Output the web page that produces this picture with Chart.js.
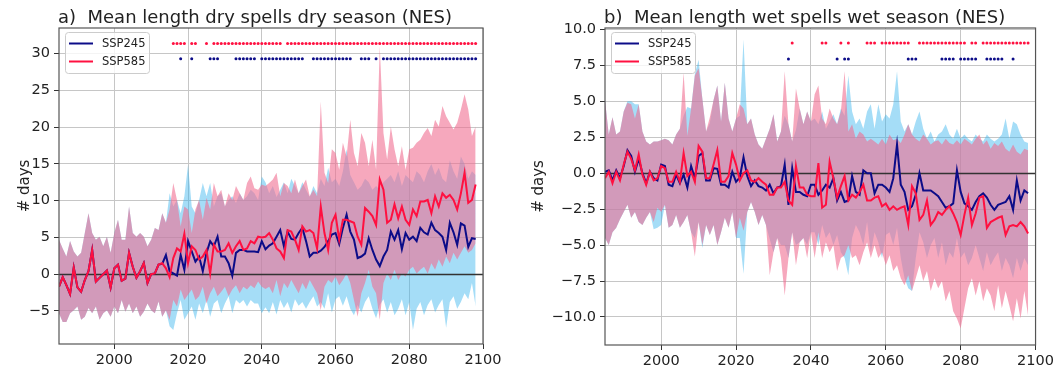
<!DOCTYPE html>
<html><head><meta charset="utf-8">
<script src="https://cdn.jsdelivr.net/npm/chart.js@4.4.1/dist/chart.umd.min.js"></script>
<style>
html,body{margin:0;padding:0;background:#fff;width:1057px;height:369px;overflow:hidden;}
.wrap{position:absolute;top:0;height:369px;}
#wa{left:0;width:530px;} #wb{left:530px;width:527px;}
canvas{display:block;}
</style></head><body>
<div class="wrap" id="wa"><canvas id="ca" width="530" height="369"></canvas></div>
<div class="wrap" id="wb"><canvas id="cb" width="527" height="369"></canvas></div>
<script>
// ---------- data ----------
const START_YEAR = 1985;           // first year of every series (one value per year)
const SERIES_NAMES = ['SSP245', 'SSP585'];
const TITLE_A = 'a)  Mean length dry spells dry season (NES)';
const TITLE_B = 'b)  Mean length wet spells wet season (NES)';

// Panel a: dry spells, dry season
const dryMean245 = [-1.7,-0.4,-1.5,-2.7,0.9,-1.8,-2.4,-0.8,0.4,3.3,
 -1.0,-0.5,0.0,0.5,-1.8,0.8,1.3,-0.9,-0.6,2.9,
 1.0,-0.5,0.4,1.5,-1.2,0.0,0.1,1.3,1.4,2.6,
 0.4,0.1,-0.2,2.6,0.6,4.5,3.1,1.7,2.4,0.4,
 2.9,4.5,3.8,5.1,2.4,2.4,1.5,-0.2,2.9,3.3,
 3.3,3.1,3.1,3.1,3.0,4.5,3.4,
 3.9,4.2,5.1,6.0,3.8,5.8,4.8,4.7,5.6,6.3,
 4.5,2.4,2.9,2.9,3.2,3.7,4.5,5.4,5.6,4.1,
 6.3,8.1,5.8,4.7,2.2,2.4,2.8,4.9,3.3,2.0,
 1.1,2.4,3.3,5.8,4.7,6.0,3.4,5.6,4.7,5.1,
 4.5,6.3,5.7,5.4,7.0,6.0,5.6,5.1,3.3,7.0,
 5.7,4.0,6.9,6.6,3.7,4.9,4.8];
const dryMean585 = [-1.7,-0.4,-1.5,-2.7,0.9,-1.8,-2.4,-0.8,0.4,3.3,
 -1.0,-0.5,0.0,0.5,-1.8,0.8,1.3,-0.9,-0.6,2.9,
 1.0,-0.5,0.4,1.5,-1.2,0.0,0.1,1.3,1.5,0.8,
 -0.4,2.2,3.5,3.1,5.5,1.5,3.8,3.3,2.0,2.4,
 3.3,0.1,4.0,3.1,3.1,3.3,4.2,2.9,3.8,4.5,
 3.3,3.5,4.5,4.2,5.1,5.0,5.1,
 5.6,4.7,3.5,3.1,2.2,6.0,5.8,4.7,3.3,6.5,
 5.8,6.0,5.6,3.5,9.2,5.6,3.3,7.0,8.1,4.7,
 7.4,7.4,7.2,7.0,5.1,4.0,9.0,8.5,7.9,6.7,
 12.9,11.5,7.0,7.4,9.5,7.6,9.2,7.4,6.7,8.8,
 7.9,9.9,9.9,10.1,8.3,10.6,9.2,11.0,10.4,10.8,
 10.1,8.8,11.0,13.8,9.7,10.1,12.2];
const dryHigh245 = [4.7,3.5,2.4,4.5,3.1,2.4,2.9,5.6,8.3,5.6,
 4.7,5.1,3.8,5.1,2.9,5.6,7.4,4.7,4.7,9.2,
 5.6,5.1,5.6,5.1,3.8,4.7,6.3,6.0,8.3,7.0,
 11.0,9.2,10.1,8.3,10.6,14.9,9.2,8.3,10.1,12.4,
 10.6,12.4,9.2,10.6,11.0,9.2,10.1,10.6,9.7,11.0,
 10.1,10.6,11.5,11.0,10.1,13.3,12.5,11.0,12.0,10.5,
 11.5,12.5,11.0,13.0,12.0,11.0,12.5,11.5,10.5,12.0,
 11.0,13.0,12.0,14.5,12.5,13.0,12.0,14.0,17.0,13.5,
 12.5,11.5,12.0,13.0,12.5,11.5,12.0,11.5,12.5,13.0,
 13.5,12.5,14.0,12.0,13.5,13.0,12.5,14.0,13.5,12.5,
 14.0,15.0,13.5,14.5,13.0,12.5,15.5,14.0,13.0,16.0,
 15.0,13.0,14.0,13.5];
const dryLow245 = [-5.3,-6.5,-6.5,-5.3,-4.9,-4.4,-6.2,-5.8,-4.6,-5.3,
 -4.4,-6.2,-5.3,-4.9,-5.8,-4.4,-5.3,-3.5,-5.1,-4.0,
 -5.3,-4.4,-5.8,-5.1,-4.0,-4.9,-5.3,-3.7,-5.8,-4.9,
 -7.1,-7.6,-5.3,-3.5,-6.2,-5.3,-4.4,-6.2,-4.0,-5.3,
 -3.5,-5.8,-4.0,-3.5,-5.3,-4.0,-3.0,-5.3,-3.5,-4.0,
 -3.5,-4.4,-3.5,-4.0,-4.0,-5.3,-4.5,-5.3,-3.8,-5.5,
 -3.5,-4.6,-3.8,-5.2,-3.4,-4.3,-3.8,-4.7,-3.8,-3.0,
 -4.4,-3.8,-4.7,-2.6,-5.2,-3.4,-3.0,-4.3,-3.0,-4.7,
 -5.6,-4.2,-5.2,-3.8,-3.0,-4.7,-6.0,-4.2,-3.4,-5.2,
 -3.8,-5.6,-4.7,-3.4,-5.6,-3.8,-7.6,-4.7,-3.8,-5.6,
 -4.2,-3.4,-5.2,-4.2,-3.4,-7.3,-3.8,-3.0,-4.7,-3.8,
 -2.6,-3.4,-1.2,-4.4];
const dryHigh585 = [4.7,3.5,2.4,4.5,3.1,2.4,2.9,5.6,8.3,5.6,
 4.7,5.1,3.8,5.1,2.9,5.6,7.4,4.7,4.7,9.2,
 5.6,5.1,5.6,5.1,3.8,4.7,6.3,6.0,8.3,7.0,
 8.8,12.4,10.1,6.5,9.2,8.8,5.6,8.8,10.1,7.4,
 10.4,8.8,12.4,10.6,11.5,9.2,11.0,10.1,12.0,11.0,
 10.1,12.4,13.3,11.7,11.5,12.2,12.0,12.4,12.9,13.8,
 10.6,12.4,12.0,11.0,12.9,11.0,12.0,12.9,10.6,11.5,
 10.6,23.5,13.8,12.4,17.0,16.5,14.2,17.9,16.0,21.0,
 16.5,14.7,19.2,17.9,14.7,18.3,14.2,31.0,19.2,15.6,
 20.1,17.0,14.7,17.4,14.2,17.0,17.2,17.9,18.3,19.2,
 19.9,18.8,21.0,20.1,22.9,21.5,20.6,19.7,20.6,22.4,
 24.5,22.4,18.8,20.1];
const dryLow585 = [-5.3,-6.5,-6.5,-5.3,-4.9,-4.4,-6.2,-5.8,-4.6,-5.3,
 -4.4,-6.2,-5.3,-4.9,-5.8,-4.4,-5.3,-3.5,-5.1,-4.0,
 -5.3,-4.4,-5.8,-5.1,-4.0,-4.9,-5.3,-3.7,-5.8,-4.9,
 -6.2,-3.5,-4.4,-2.1,-3.5,-2.8,-2.1,-3.5,-3.0,-1.7,
 -4.0,-2.6,-1.7,-3.0,-2.4,-1.7,-3.0,-2.1,-1.5,-2.6,
 -1.7,-2.1,-1.5,-1.9,-1.0,-1.7,-2.0,-1.7,-2.6,-0.8,
 -3.0,-1.2,-1.9,-0.8,-1.7,-2.6,-1.2,-2.1,-0.8,-1.7,
 -2.6,-4.9,-1.7,-0.8,-1.2,-0.3,-1.5,-0.8,0.1,-1.2,
 -3.5,-5.8,-2.6,-1.2,0.6,-1.7,-2.6,-6.2,-1.2,0.1,
 -0.8,0.6,-0.8,0.1,-0.3,0.6,1.0,0.1,0.6,1.0,
 0.1,1.5,0.6,2.0,1.0,2.4,1.5,2.9,2.0,2.9,
 3.8,2.9,3.3,4.2];
// years with a significant change (marker rows at the top of panel a)
const drySig245 = [2018,2021,2026,2027,2028,2033,2034,2035,2036,2037,2038,
 2040,2041,2042,2043,2044,2045,2046,2047,2048,2049,2050,2051,
 2054,2055,2056,2057,2058,2059,2060,2061,2062,2063,2064,
 2067,2068,2069,2071,
 2073,2074,2075,2076,2077,2078,2079,2080,2081,2082,2083,2084,2085,2086,
 2087,2088,2089,2090,2091,2092,2093,2094,2095,2096,2097,2098];
const drySig585 = [2016,2017,2018,2019,2021,2022,2025,
 2027,2028,2029,2030,2031,2032,2033,2034,2035,2036,2037,2038,2039,2040,
 2041,2042,2043,2044,2045,
 2047,2048,2049,2050,2051,2052,2053,2054,2055,2056,2057,2058,2059,2060,
 2061,2062,2063,2064,2065,2066,2067,2068,2069,2070,2071,2072,2073,2074,
 2075,2076,2077,2078,2079,2080,2081,2082,2083,2084,2085,2086,2087,2088,
 2089,2090,2091,2092,2093,2094,2095,2096,2097,2098];
const drySigLevel245 = 29.3, drySigLevel585 = 31.4;

// Panel b: wet spells, wet season
const wetMean245 = [0.1,0.2,-0.5,0.2,-0.35,0.5,1.6,1.2,0.1,1.0,
 0.0,-0.7,0.1,-0.35,-0.5,0.6,0.5,-0.8,-0.9,-0.1,
 -0.7,-0.1,-1.0,0.5,-0.35,1.2,1.4,-0.5,-0.5,0.35,
 0.3,-0.8,-0.8,-1.0,0.1,-0.6,-0.3,1.1,-0.2,-0.9,
 -0.5,-0.9,-1.0,-1.2,-0.8,-1.4,-1.0,-0.9,0.6,-2.2,
 0.35,-1.3,-1.3,-1.5,-1.6,-0.8,
 -0.8,-1.5,-1.2,-0.8,-1.0,-0.35,-1.9,-1.3,-2.0,-1.9,
 -0.2,-1.3,-1.5,0.2,0.0,0.0,-1.4,-0.8,-0.8,-1.0,
 -1.3,-0.35,2.0,-0.8,-1.3,-2.55,-2.3,-1.5,0.0,-1.2,
 -1.2,-1.2,-1.4,-1.6,-2.0,-2.4,-2.3,-2.1,0.2,-1.3,
 -2.1,-2.3,-2.55,-2.0,-1.6,-1.4,-1.7,-2.2,-2.55,-2.2,
 -2.1,-2.0,-1.6,-2.55,-0.5,-1.9,-1.2,-1.4];
const wetMean585 = [-0.35,0.1,-0.7,0.1,-0.5,0.6,1.5,1.0,0.2,1.3,
 -0.1,-0.8,0.1,-0.5,-0.35,0.5,0.35,-0.6,-0.6,0.1,
 -0.6,1.4,-0.2,0.1,-0.6,1.9,1.5,-0.35,-0.35,0.6,
 1.6,-0.6,-0.6,-0.2,1.4,0.6,-0.5,0.0,0.2,-0.5,
 -0.6,-0.35,-0.6,-0.8,-1.5,-1.5,-1.0,-1.0,-0.6,-1.9,
 -2.2,0.5,-1.0,-1.0,-1.5,-1.6,
 -1.6,0.7,-2.4,-2.2,0.8,-0.35,-1.7,-0.9,-0.2,-1.9,
 -1.5,-1.7,-1.3,-0.8,-1.9,-1.9,-1.7,-1.6,-2.3,-2.1,
 -2.55,-2.3,-2.55,-2.4,-2.3,-3.6,-0.9,-1.4,-3.25,-2.9,
 -1.9,-3.6,-3.25,-2.7,-2.9,-2.55,-2.3,-2.8,-3.4,-4.3,
 -2.9,-1.7,-3.6,-2.8,-1.7,-1.6,-3.8,-3.4,-3.25,-3.1,
 -3.0,-4.3,-3.7,-3.6,-3.7,-3.4,-3.7,-4.2];
const wetHigh245 = [5.1,2.7,3.9,2.7,2.9,4.3,5.0,5.0,4.8,4.8,
 2.9,2.2,2.0,2.2,2.2,2.3,2.4,2.3,2.0,2.7,
 3.1,4.0,4.6,4.5,6.9,7.9,5.2,2.9,3.5,5.1,
 6.1,3.6,6.3,3.8,2.9,3.8,4.0,9.3,3.4,3.8,
 2.7,2.0,1.7,2.4,3.1,4.1,2.2,2.9,4.0,3.4,
 2.2,3.0,4.5,3.4,4.3,3.6,
 3.8,3.4,4.3,3.1,3.6,4.1,3.4,4.5,4.0,6.8,
 4.3,3.4,3.8,3.1,4.3,4.8,3.1,4.8,3.6,4.1,
 3.8,4.8,7.1,3.6,2.9,3.4,2.7,3.6,4.3,3.1,
 2.4,2.9,2.2,2.7,2.9,3.4,2.7,2.4,3.1,2.4,
 2.7,2.4,2.2,2.7,2.4,2.2,2.7,2.4,2.2,2.4,
 2.7,3.8,2.4,3.6,3.4,2.7,2.2,2.1];
const wetLow245 = [-4.5,-5.0,-4.1,-3.8,-3.2,-2.7,-2.2,-3.1,-2.7,-3.4,
 -3.6,-3.1,-2.7,-3.9,-3.8,-3.6,-2.2,-3.8,-3.6,-2.9,
 -3.8,-3.4,-2.9,-4.1,-4.5,-3.4,-5.2,-3.6,-4.3,-3.6,
 -5.0,-4.1,-3.1,-3.8,-2.7,-4.5,-4.5,-7.0,-2.7,-2.0,
 -2.7,-3.6,-2.9,-3.6,-4.6,-5.5,-4.5,-5.0,-5.0,-5.9,
 -4.1,-5.0,-4.8,-4.5,-5.0,-4.1,
 -4.1,-5.0,-3.6,-4.5,-4.1,-5.0,-4.3,-5.5,-5.9,-7.1,
 -4.5,-3.6,-4.1,-5.0,-3.4,-5.5,-4.1,-4.8,-5.9,-4.3,
 -4.1,-5.0,-3.8,-5.9,-7.3,-8.0,-8.2,-5.9,-4.1,-4.8,
 -5.9,-5.0,-4.5,-5.9,-4.8,-6.4,-5.5,-5.9,-4.5,-5.9,
 -5.5,-6.4,-5.9,-5.0,-5.9,-6.8,-5.5,-6.4,-5.9,-5.5,
 -6.8,-5.9,-6.4,-7.3,-5.9,-6.8,-5.9,-6.4];
const wetHigh585 = [5.1,2.7,3.9,2.7,2.9,4.3,4.9,4.8,3.8,4.8,
 2.9,2.2,2.0,2.2,2.2,2.3,2.4,2.3,2.0,2.7,
 3.1,7.0,2.6,4.5,6.8,7.3,5.2,2.9,3.9,5.1,
 6.1,3.6,6.3,3.8,2.9,3.8,4.8,4.5,3.4,3.8,
 2.7,2.0,1.7,2.4,3.1,4.1,2.2,2.9,7.1,3.4,
 2.2,5.9,4.5,3.4,4.3,3.6,
 5.5,6.1,3.8,3.4,4.5,3.8,3.4,4.3,7.1,2.9,
 3.4,2.4,2.9,2.7,2.2,2.4,2.2,2.0,2.4,2.0,
 2.7,2.3,2.4,2.1,2.7,3.4,2.7,2.4,2.2,2.7,
 2.4,2.0,2.2,2.3,2.0,2.4,2.1,2.0,2.3,2.0,
 2.4,2.2,2.0,2.4,2.7,2.0,2.3,1.7,2.1,1.9,
 2.2,1.7,1.5,2.0,1.5,1.3,1.7,1.6];
const wetLow585 = [-4.5,-5.0,-4.1,-3.8,-3.2,-2.7,-2.2,-3.1,-2.7,-3.4,
 -3.6,-3.1,-2.7,-3.4,-2.4,-2.7,-2.2,-3.8,-3.6,-2.9,
 -3.8,-3.4,-2.9,-4.1,-5.8,-3.4,-5.0,-3.6,-4.3,-3.6,
 -5.0,-4.1,-3.1,-3.8,-2.7,-4.5,-3.1,-4.0,-2.7,-2.0,
 -2.7,-3.6,-2.9,-3.6,-7.1,-5.5,-4.5,-5.9,-8.5,-5.9,
 -4.1,-6.4,-4.8,-4.5,-5.9,-4.1,
 -5.9,-4.1,-5.9,-4.8,-5.5,-5.0,-6.8,-5.9,-5.7,-5.0,
 -5.9,-5.7,-6.4,-5.5,-4.8,-5.9,-5.0,-5.9,-5.5,-6.4,
 -5.7,-6.8,-6.4,-7.3,-7.8,-7.1,-8.2,-7.3,-6.4,-7.5,
 -6.8,-8.2,-7.3,-8.0,-7.5,-8.9,-8.2,-9.6,-10.1,-10.8,
 -9.4,-8.0,-7.3,-8.5,-7.5,-8.9,-8.0,-8.5,-9.6,-7.8,
 -9.4,-8.2,-9.2,-10.3,-8.7,-10.1,-8.2,-9.9];
const wetSig245 = [2034,2047,2049,2050,2066,2067,2068,2075,2076,2077,2078,
 2080,2081,2082,2083,2084,2087,2088,2089,2090,2091,2094];
const wetSig585 = [2035,2043,2044,2048,2050,2055,2056,2057,
 2059,2060,2061,2062,2063,2064,2065,2066,
 2069,2070,2071,2072,2073,2074,2075,2076,2077,2078,2079,2080,2081,
 2083,2084,2086,2087,2088,2089,2090,2091,2092,2093,2094,2095,2096,2097,2098];
const wetSigLevel245 = 7.95, wetSigLevel585 = 9.05;

// ---------- styling ----------
const FONT = "'DejaVu Sans', 'Liberation Sans', sans-serif";
const NAVY = '#0c0c88';
const RED = '#ff1040';
const BLUE_FILL = 'rgba(55,180,238,0.45)';
const PINK_FILL = 'rgba(240,110,145,0.6)';
const GRID = '#c6c6c6';
const TXT = '#222222';
Chart.defaults.font.family = FONT;
Chart.defaults.color = TXT;

const pts = arr => arr.map((v, i) => ({x: START_YEAR + i, y: v}));
const sigPts = (years, level) => years.map(y => ({x: y, y: level}));

const decor = {
  id: 'decor',
  afterDatasetDraw(chart, args, o) {
    if (args.index !== 3) return;            // after the last band: zero reference line
    const {ctx, chartArea: a, scales: {y}} = chart;
    const py = Math.round(y.getPixelForValue(0)) + 0.5;
    ctx.save();
    ctx.strokeStyle = '#333'; ctx.lineWidth = 1.3;
    ctx.beginPath(); ctx.moveTo(a.left, py); ctx.lineTo(a.right, py); ctx.stroke();
    ctx.restore();
  },
  afterDraw(chart, args, o) {
    const {ctx, chartArea: a} = chart;
    ctx.save();
    // frame
    ctx.strokeStyle = '#555'; ctx.lineWidth = 1.2;
    ctx.strokeRect(a.left, a.top, a.right - a.left, a.bottom - a.top);
    // title
    ctx.fillStyle = TXT; ctx.font = "18px " + FONT;
    ctx.textAlign = 'left'; ctx.textBaseline = 'alphabetic';
    ctx.fillText(o.title, a.left - 1, 23);
    // legend
    const lx = a.left + 6, ly = a.top + 4, lw = 84, lh = 41;
    ctx.fillStyle = 'rgba(255,255,255,0.8)';
    ctx.strokeStyle = '#cccccc'; ctx.lineWidth = 1;
    ctx.beginPath(); ctx.roundRect(lx + 0.5, ly + 0.5, lw, lh, 3); ctx.fill(); ctx.stroke();
    const cols = [NAVY, RED];
    ctx.font = "11.5px " + FONT; ctx.textBaseline = 'middle';
    SERIES_NAMES.forEach((name, i) => {
      const yy = ly + 11.5 + i * 18;
      ctx.strokeStyle = cols[i]; ctx.lineWidth = 2;
      ctx.beginPath(); ctx.moveTo(lx + 4, yy); ctx.lineTo(lx + 28, yy); ctx.stroke();
      ctx.fillStyle = TXT; ctx.fillText(name, lx + 37, yy + 0.5);
    });
    ctx.restore();
  }
};

function makePanel(id, p) {
  const band = (data, fillTo, color, order) => ({
    data: pts(data), fill: fillTo === null ? false : fillTo, backgroundColor: color,
    borderColor: 'rgba(0,0,0,0)', borderWidth: 0, pointRadius: 0, tension: 0, order
  });
  const line = (label, data, color, order) => ({
    label, data: pts(data), borderColor: color, backgroundColor: color, borderWidth: 2,
    pointRadius: 0, fill: false, tension: 0, order
  });
  const dots = (data, color) => ({
    data, showLine: false, pointRadius: 1.5, pointBorderWidth: 0,
    pointBackgroundColor: color, borderColor: color, order: 1
  });
  const fmt = v => (p.decimals ? v.toFixed(p.decimals) : String(v)).replace('-', '\u2212');
  return new Chart(document.getElementById(id), {
    type: 'line',
    data: { datasets: [
      band(p.hi245, 1, BLUE_FILL, 10),
      band(p.lo245, null, BLUE_FILL, 9),
      band(p.hi585, 3, PINK_FILL, 8),
      band(p.lo585, null, PINK_FILL, 7),
      line(SERIES_NAMES[0], p.mean245, NAVY, 3),
      line(SERIES_NAMES[1], p.mean585, RED, 2),
      dots(sigPts(p.sig245, p.sigLevel245), NAVY),
      dots(sigPts(p.sig585, p.sigLevel585), RED)
    ]},
    options: {
      responsive: false, animation: false, events: [],
      layout: { padding: { top: 28, right: p.padRight, left: 0, bottom: 0 } },
      plugins: { legend: { display: false }, tooltip: { enabled: false }, decor: { title: p.title } },
      scales: {
        x: {
          type: 'linear', min: 1985, max: 2100,
          ticks: { stepSize: 20, includeBounds: false, maxRotation: 0, padding: 3,
                   font: { size: 14.5 }, color: TXT, callback: v => String(v) },
          grid: { color: GRID, lineWidth: 1, drawTicks: true, tickLength: 5, tickColor: '#333', tickWidth: 1 },
          border: { display: false },
          afterFit: s => { s.height = p.xHeight; }
        },
        y: {
          min: p.ymin, max: p.ymax,
          ticks: { stepSize: p.step, includeBounds: false, padding: 4,
                   font: { size: 14.5 }, color: TXT, callback: v => fmt(v) },
          grid: { color: GRID, lineWidth: 1, drawTicks: true, tickLength: 5, tickColor: '#333', tickWidth: 1 },
          border: { display: false },
          title: { display: true, text: '# days', font: { size: 15 }, color: TXT,
                   padding: { top: p.yTitlePad, bottom: 0 } },
          afterFit: s => { s.width = p.yWidth; }
        }
      }
    },
    plugins: [decor]
  });
}

makePanel('ca', {
  title: TITLE_A, mean245: dryMean245, mean585: dryMean585,
  hi245: dryHigh245, lo245: dryLow245, hi585: dryHigh585, lo585: dryLow585,
  sig245: drySig245, sig585: drySig585, sigLevel245: drySigLevel245, sigLevel585: drySigLevel585,
  ymin: -9.5, ymax: 33.5, step: 5, decimals: 0,
  yWidth: 59, xHeight: 25, padRight: 47, yTitlePad: 16
});
makePanel('cb', {
  title: TITLE_B, mean245: wetMean245, mean585: wetMean585,
  hi245: wetHigh245, lo245: wetLow245, hi585: wetHigh585, lo585: wetLow585,
  sig245: wetSig245, sig585: wetSig585, sigLevel245: wetSigLevel245, sigLevel585: wetSigLevel585,
  ymin: -11.95, ymax: 10.1, step: 2.5, decimals: 1,
  yWidth: 75, xHeight: 24, padRight: 20, yTitlePad: 0
});
</script>
</body></html>
